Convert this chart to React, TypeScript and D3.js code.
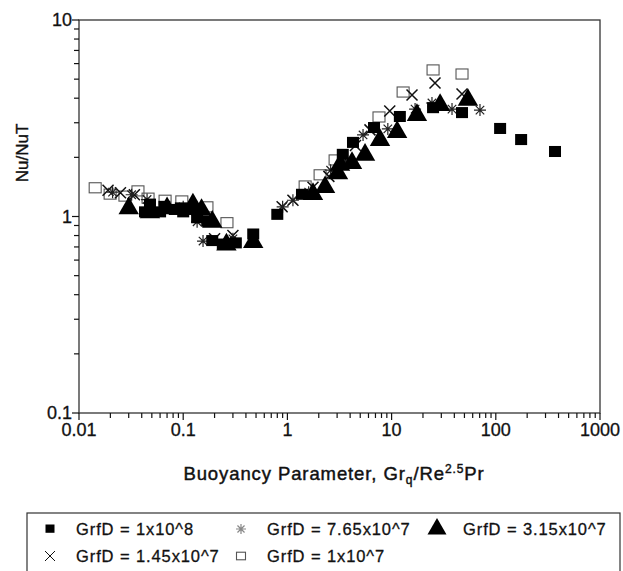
import React, { useEffect, useRef } from 'react';
import * as d3 from 'd3';

// [buoyancy parameter, Nu/NuT] per series
const grfd1e8 = [
  [0.043, 1.05], [0.048, 1.15], [0.06, 1.05], [0.066, 1.12], [0.083, 1.08], [0.095, 1.1],
  [0.1, 1.05], [0.115, 1.08], [0.136, 0.98], [0.17, 0.94], [0.19, 0.75], [0.24, 0.72],
  [0.32, 0.73], [0.47, 0.81], [0.8, 1.02], [1.38, 1.29], [3.4, 2.06], [4.26, 2.37],
  [6.78, 2.82], [12.0, 3.21], [25, 3.56], [47.4, 3.36], [110, 2.79], [175, 2.45], [370, 2.13],
];
const grfd765e7 = [
  [0.021, 1.33], [0.032, 1.29], [0.045, 1.22], [0.1, 1.12], [0.136, 0.94], [0.155, 0.75],
  [0.3, 0.77], [0.9, 1.12], [1.13, 1.21], [1.6, 1.33], [2.6, 1.72], [3.6, 1.9], [5.32, 2.6],
  [9.2, 2.79], [16.8, 3.52], [24.4, 3.78], [38, 3.52], [70.5, 3.48],
];
const grfd315e7 = [
  [0.03, 1.1], [0.048, 1.05], [0.07, 1.1], [0.124, 1.15], [0.15, 1.08], [0.19, 0.94],
  [0.26, 0.72], [0.47, 0.74], [1.76, 1.3], [2.3, 1.41], [3.06, 1.66], [3.2, 1.83],
  [4.17, 1.87], [5.56, 2.06], [7.74, 2.45], [11.3, 2.69], [17.5, 3.28], [29.2, 3.69], [54, 3.92],
];
const grfd145e7 = [
  [0.019, 1.36], [0.025, 1.32], [0.034, 1.29], [0.2, 0.77], [0.3, 0.8], [0.89, 1.12],
  [1.13, 1.21], [1.76, 1.41], [2.5, 1.6], [4.5, 2.3], [6.2, 2.76], [9.6, 3.44], [15.7, 4.15],
  [26.1, 4.78], [47.4, 4.2],
];
const grfd1e7 = [
  [0.0143, 1.4], [0.0199, 1.3], [0.0276, 1.27], [0.0368, 1.35], [0.046, 1.24], [0.067, 1.21],
  [0.097, 1.2], [0.169, 1.12], [0.263, 0.93], [1.48, 1.43], [2.06, 1.63], [2.87, 1.94],
  [7.57, 3.21], [12.9, 4.3], [25, 5.57], [47.4, 5.31],
];

const xTicks = [0.01, 0.1, 1, 10, 100, 1000];
const yTicks = [0.1, 1, 10];
const legendLabels = [
  'GrfD = 1x10^8', 'GrfD = 7.65x10^7', 'GrfD = 3.15x10^7',
  'GrfD = 1.45x10^7', 'GrfD = 1x10^7',
];

const App = () => {
  const ref = useRef<SVGSVGElement>(null);

  useEffect(() => {
    const svg = d3.select(ref.current);
    svg.selectAll('*').remove();
    const font = 'Liberation Sans, Arial, sans-serif';

    const x = d3.scaleLog().domain([0.01, 1000]).range([79, 600]);
    const y = d3.scaleLog().domain([0.1, 10]).range([413, 20]);

    const ink = '#111';
    // scanned print looks a bit heavy, so give text a thin outline
    const heavy = (t: any, w = 0.35) => t.attr('stroke', ink).attr('stroke-width', w);

    // frame
    svg.append('rect')
      .attr('x', 79).attr('y', 20).attr('width', 521).attr('height', 393)
      .attr('fill', 'none').attr('stroke', '#333').attr('stroke-width', 1.3);

    // minor ticks
    const minors = (lo: number, hi: number) => {
      const out: number[] = [];
      for (let d = lo; d < hi; d *= 10) for (let k = 1; k < 10; k++) out.push(d * k);
      out.push(hi);
      return out;
    };
    const g = svg.append('g').attr('stroke', ink).attr('stroke-width', 1.2);
    minors(0.01, 1000).forEach(v => {
      const major = xTicks.includes(v);
      g.append('line').attr('x1', x(v)).attr('x2', x(v))
        .attr('y1', 413).attr('y2', 413 + (major ? 7 : 5));
    });
    minors(0.1, 10).forEach(v => {
      const major = yTicks.includes(v);
      g.append('line').attr('y1', y(v)).attr('y2', y(v))
        .attr('x1', 79).attr('x2', 79 - (major ? 7 : 5));
    });

    xTicks.forEach(v => {
      heavy(svg.append('text').attr('x', x(v)).attr('y', 436)
        .attr('text-anchor', 'middle').attr('font-family', font).attr('font-size', 18)
        .attr('fill', ink).text(String(v)), 0.3);
    });
    yTicks.forEach(v => {
      heavy(svg.append('text').attr('x', 72).attr('y', y(v) + 6)
        .attr('text-anchor', 'end').attr('font-family', font).attr('font-size', 18)
        .attr('fill', ink).text(String(v)), 0.3);
    });

    // axis titles
    const xt = svg.append('text').attr('x', 334).attr('y', 480)
      .attr('text-anchor', 'middle').attr('font-family', font).attr('font-size', 18.5)
      .attr('letter-spacing', 0.9).attr('fill', ink);
    heavy(xt, 0.45);
    xt.append('tspan').text('Buoyancy Parameter, Gr');
    xt.append('tspan').attr('font-size', 12).attr('dy', 4).text('q');
    xt.append('tspan').attr('dy', -4).text('/Re');
    xt.append('tspan').attr('font-size', 12).attr('dy', -7).text('2.5');
    xt.append('tspan').attr('dy', 7).text('Pr');

    heavy(svg.append('text').attr('transform', 'translate(28,153) rotate(-90)')
      .attr('text-anchor', 'middle').attr('font-family', font).attr('font-size', 17)
      .attr('fill', ink).text('Nu/NuT'), 0.4);

    // markers
    const drawMarker = (sel: any, kind: string, cx: number, cy: number, s: number) => {
      const m = sel.append('g').attr('transform', `translate(${cx},${cy})`);
      if (kind === 'fsq') {
        m.append('rect').attr('x', -s / 2).attr('y', -s / 2).attr('width', s).attr('height', s * 0.92)
          .attr('fill', '#000');
      } else if (kind === 'tri') {
        m.append('path').attr('d', d3.symbol().type(d3.symbolTriangle).size(s * s * 0.8)())
          .attr('fill', '#000');
      } else if (kind === 'osq') {
        m.append('rect').attr('x', -s / 2).attr('y', -s * 0.42).attr('width', s).attr('height', s * 0.84)
          .attr('fill', 'none').attr('stroke', '#555').attr('stroke-width', 1.1);
      } else if (kind === 'x') {
        const r = s / 2;
        m.append('path').attr('d', `M${-r},${-r}L${r},${r}M${-r},${r}L${r},${-r}`)
          .attr('stroke', '#111').attr('stroke-width', 1.5);
      } else if (kind === 'ast') {
        const r = s / 2;
        const d = d3.range(4).map(i => {
          const a = (i * Math.PI) / 4;
          return `M${-r * Math.cos(a)},${-r * Math.sin(a)}L${r * Math.cos(a)},${r * Math.sin(a)}`;
        }).join('');
        m.append('path').attr('d', d).attr('stroke', '#222').attr('stroke-width', 1.2);
      }
    };

    const series: [number[][], string, number][] = [
      [grfd1e7, 'osq', 12],
      [grfd145e7, 'x', 11],
      [grfd765e7, 'ast', 12],
      [grfd1e8, 'fsq', 12],
      [grfd315e7, 'tri', 15],
    ];
    const pts = svg.append('g');
    series.forEach(([data, kind, s]) => {
      data.forEach(([a, b]) => drawMarker(pts, kind, x(a), y(b), s));
    });

    // legend
    svg.append('rect').attr('x', 27).attr('y', 513).attr('width', 593).attr('height', 80)
      .attr('fill', 'none').attr('stroke', '#333').attr('stroke-width', 1.2);
    const legKinds: [string, number, string][] = [
      ['fsq', 9, ''], ['ast', 10, '#888'], ['tri', 14, ''], ['x', 10, ''], ['osq', 9, ''],
    ];
    const cols = [50, 241, 437];
    const rows = [529, 556];
    legendLabels.forEach((label, i) => {
      const cx = cols[i % 3];
      const cy = rows[Math.floor(i / 3)];
      const lg = svg.append('g');
      drawMarker(lg, legKinds[i][0], cx, cy, legKinds[i][1]);
      if (legKinds[i][2]) lg.selectAll('path').attr('stroke', legKinds[i][2]);
      if (legKinds[i][0] === 'x') lg.selectAll('path').attr('stroke-width', 1);
      heavy(svg.append('text').attr('x', cx + 26).attr('y', cy + 6)
        .attr('font-family', font).attr('font-size', 16.5).attr('letter-spacing', 0.9)
        .attr('fill', ink).text(label), 0.3);
    });
  }, []);

  return (
    <svg ref={ref} width={623} height={571}
      style={{ position: 'absolute', left: 0, top: 0, background: '#fff' }} />
  );
};

export default App;
